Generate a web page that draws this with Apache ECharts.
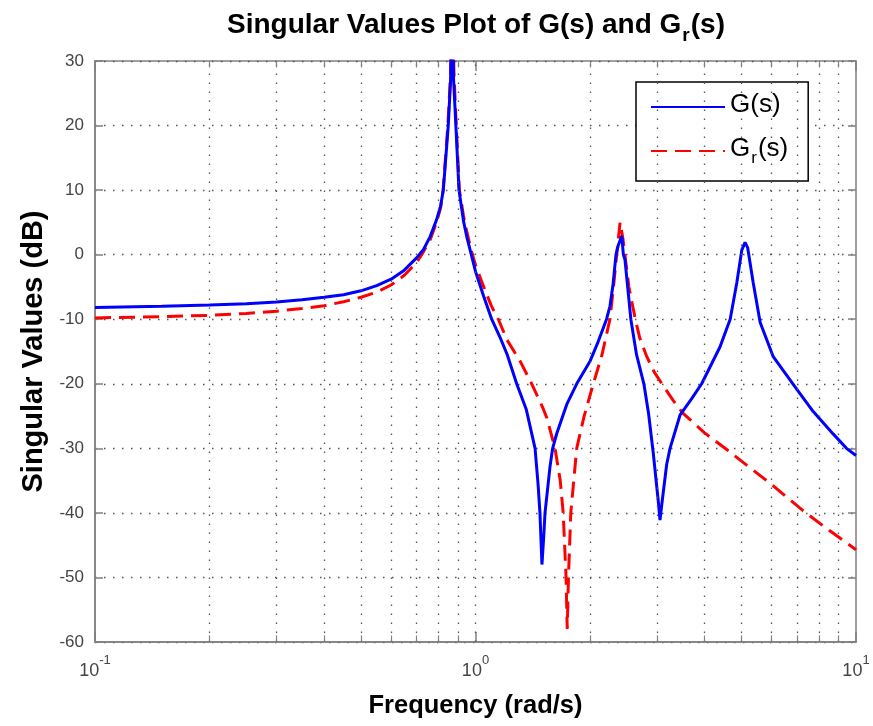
<!DOCTYPE html>
<html>
<head>
<meta charset="utf-8">
<script src="https://cdn.jsdelivr.net/npm/echarts@6/dist/echarts.min.js"></script>
<style>
html,body{margin:0;padding:0;background:#fff;}
#chart{width:873px;height:726px;}
</style>
</head>
<body>
<div id="chart"></div>
<script>
// ---- data ----
const freqG = [0.1,0.15,0.2,0.25,0.3,0.35,0.4,0.45,0.5,0.55,0.6,0.65,0.7,0.73,0.76,0.79,0.81,0.823,0.848,0.86,0.868,0.876,0.888,0.905,0.93,0.95,0.975,1.0,1.05,1.103,1.16,1.21,1.283,1.36,1.434,1.46,1.477,1.495,1.51,1.523,1.57,1.595,1.635,1.737,1.845,2.0,2.1,2.21,2.256,2.3,2.34,2.374,2.423,2.447,2.471,2.521,2.56,2.65,2.77,2.85,2.933,3.02,3.054,3.09,3.18,3.245,3.45,3.7,3.93,4.39,4.67,4.86,5.01,5.11,5.19,5.37,5.6,6.06,6.9,7.72,8.72,9.44,10];
const dbG   = [-8.2,-8.0,-7.8,-7.6,-7.35,-7.0,-6.6,-6.2,-5.6,-4.8,-3.8,-2.4,-0.5,0.8,2.8,5.4,7.6,10,20,27,40,27,20,10,5.2,2.6,0,-2.6,-6.4,-10,-12.8,-15.4,-20,-24,-30,-35.5,-40,-48,-44,-40,-32.8,-30,-27.7,-23.2,-20,-16.5,-13.5,-10,-8,-4.5,0,1.5,2.9,0,-0.8,-6,-10,-15.5,-20,-24.6,-30.8,-38,-41.1,-38.5,-32.5,-30,-24.8,-22.3,-20,-14.3,-10,-4.4,0.7,1.9,1.1,-4.4,-10.5,-15.8,-20.4,-24.3,-27.8,-30,-31.1];

const freqGr = [0.1,0.15,0.2,0.25,0.3,0.35,0.4,0.45,0.5,0.55,0.6,0.65,0.7,0.722,0.76,0.79,0.81,0.822,0.846,0.86,0.868,0.878,0.89,0.907,0.93,0.95,0.975,1.0,1.048,1.1,1.148,1.21,1.31,1.405,1.5,1.54,1.618,1.67,1.7,1.73,1.742,1.755,1.78,1.845,1.93,2.04,2.15,2.256,2.3,2.35,2.398,2.44,2.47,2.53,2.63,2.705,2.82,2.95,3.09,3.3,3.5,4.0,4.6,5.16,6.06,7.27,8.5,10];
const dbGr   = [-9.8,-9.6,-9.4,-9.1,-8.75,-8.35,-7.9,-7.3,-6.6,-5.8,-4.7,-3.2,-1.2,0,2.3,5,7.3,10,20,28,42,28,20,10,6,3.4,0.6,-1.6,-4.8,-7.9,-10,-13.2,-16.5,-20,-23.6,-25.3,-30,-35,-40,-50,-58,-50,-40,-30,-25,-20,-15.5,-10,-5.5,0,5,2.5,0,-5,-10,-13,-15.8,-18.2,-20,-22.5,-24.5,-27.6,-30.3,-32.6,-35.8,-39.7,-42.7,-45.7];

const xMinorTicks = [0.2,0.3,0.4,0.5,0.6,0.7,0.8,0.9,2,3,4,5,6,7,8,9];
const xMajorTicks = [1];

const seriesNames = ['G(s)', 'Gr(s)'];

// ---- chart ----
const FONT = '"Liberation Sans", Arial, Helvetica, sans-serif';
const chart = echarts.init(document.getElementById('chart'), null, {renderer: 'canvas'});
const dotted = [1.5, 7.5];
const gridLineData = xMinorTicks.concat(xMajorTicks).map(v => ({xAxis: v}));
const tickData = [];
xMinorTicks.forEach(v => {
  tickData.push([{coord: [v, -60]}, {coord: [v, -59]}]);
  tickData.push([{coord: [v, 30]}, {coord: [v, 29]}]);
});

const option = {
  backgroundColor: '#fff',
  animation: false,
  title: {
    text: '{t|Singular Values Plot of G(s) and G}{s|r}{t|(s)}',
    left: 471,
    top: 6,
    textAlign: 'center',
    textStyle: {
      rich: {
        t: {fontFamily: FONT, fontSize: 28, fontWeight: 'bold', color: '#000', lineHeight: 31, verticalAlign: 'top'},
        s: {fontFamily: FONT, fontSize: 19, fontWeight: 'bold', color: '#000', lineHeight: 19, padding: [15, 1, 0, 1], verticalAlign: 'top'}
      }
    }
  },
  grid: {left: 95, right: 17, top: 61, bottom: 84, show: true, borderColor: '#808080', borderWidth: 1.5, backgroundColor: 'transparent'},
  legend: {
    data: seriesNames,
    orient: 'vertical',
    left: 636,
    top: 82,
    padding: [10, 20, 14, 14],
    itemGap: 18,
    itemWidth: 74,
    itemHeight: 14,
    itemStyle: {opacity: 0},
    backgroundColor: '#fff',
    borderColor: '#000',
    borderWidth: 1.5,
    borderRadius: 0,
    textStyle: {
      fontFamily: FONT, fontSize: 26, color: '#000',
      rich: {
        n: {fontFamily: FONT, fontSize: 26, color: '#000', lineHeight: 30, verticalAlign: 'top'},
        s: {fontFamily: FONT, fontSize: 17, color: '#000', lineHeight: 17, padding: [14, 1, 0, 1], verticalAlign: 'top'}
      }
    },
    formatter: function (name) {
      if (name === 'Gr(s)') return '{n|G}{s|r}{n|(s)}';
      return '{n|' + name + '}';
    }
  },
  xAxis: [{
    type: 'log', logBase: 10, min: 0.1, max: 10,
    name: 'Frequency (rad/s)', nameLocation: 'middle', nameGap: 51,
    nameTextStyle: {fontFamily: FONT, fontSize: 25.5, fontWeight: 'bold', color: '#000'},
    axisLine: {show: true, onZero: false, lineStyle: {color: '#808080', width: 1.5}},
    axisTick: {show: true, inside: true, length: 10, lineStyle: {color: '#808080', width: 1.5}},
    splitLine: {show: false},
    axisLabel: {
      margin: 12,
      formatter: function (v) {
        const e = Math.round(Math.log10(v));
        return '{b|10}{e|' + e + '}';
      },
      rich: {
        b: {fontFamily: FONT, fontSize: 18, color: '#444', lineHeight: 20, padding: [8, 0, 0, 0], verticalAlign: 'top'},
        e: {fontFamily: FONT, fontSize: 13, color: '#444', lineHeight: 14, verticalAlign: 'top'}
      }
    }
  }, {
    type: 'log', logBase: 10, min: 0.1, max: 10, position: 'top',
    axisLine: {show: false, onZero: false},
    axisTick: {show: true, inside: true, length: 10, lineStyle: {color: '#808080', width: 1.5}},
    axisLabel: {show: false}, splitLine: {show: false}
  }],
  yAxis: [{
    type: 'value', min: -60, max: 30, interval: 10,
    name: 'Singular Values (dB)', nameLocation: 'middle', nameGap: 44,
    nameTextStyle: {fontFamily: FONT, fontSize: 29, fontWeight: 'bold', color: '#000'},
    axisLine: {show: true, onZero: false, lineStyle: {color: '#808080', width: 1.5}},
    axisTick: {show: true, inside: true, length: 8, lineStyle: {color: '#808080', width: 1.5}},
    axisLabel: {fontFamily: FONT, fontSize: 17, color: '#444', margin: 11},
    splitLine: {show: true, lineStyle: {color: '#555', width: 1.3, type: dotted}}
  }, {
    type: 'value', min: -60, max: 30, interval: 10, position: 'right',
    axisLine: {show: false, onZero: false},
    axisTick: {show: true, inside: true, length: 8, lineStyle: {color: '#808080', width: 1.5}},
    axisLabel: {show: false}, splitLine: {show: false}
  }],
  series: [
    {
      name: 'grid', type: 'line', data: [], z: 1, silent: true,
      markLine: {
        silent: true, symbol: 'none', animation: false,
        label: {show: false},
        lineStyle: {color: '#555', width: 1.3, type: dotted},
        data: gridLineData
      }
    },
    {
      name: 'ticks', type: 'line', data: [], z: 1, silent: true,
      markLine: {
        silent: true, symbol: 'none', animation: false,
        label: {show: false},
        lineStyle: {color: '#808080', width: 1.2, type: 'solid'},
        data: tickData
      }
    },
    {
      name: 'G(s)', type: 'line', z: 4,
      data: freqG.map((f, i) => [f, dbG[i]]),
      showSymbol: false, symbol: 'none', clip: true,
      lineStyle: {color: '#0000ff', width: 3},
      itemStyle: {color: '#0000ff'}
    },
    {
      name: 'Gr(s)', type: 'line', z: 3,
      data: freqGr.map((f, i) => [f, dbGr[i]]),
      showSymbol: false, symbol: 'none', clip: true,
      lineStyle: {color: '#ff0000', width: 3, type: [16, 8]},
      itemStyle: {color: '#ff0000'}
    }
  ]
};
chart.setOption(option);
</script>
</body>
</html>
